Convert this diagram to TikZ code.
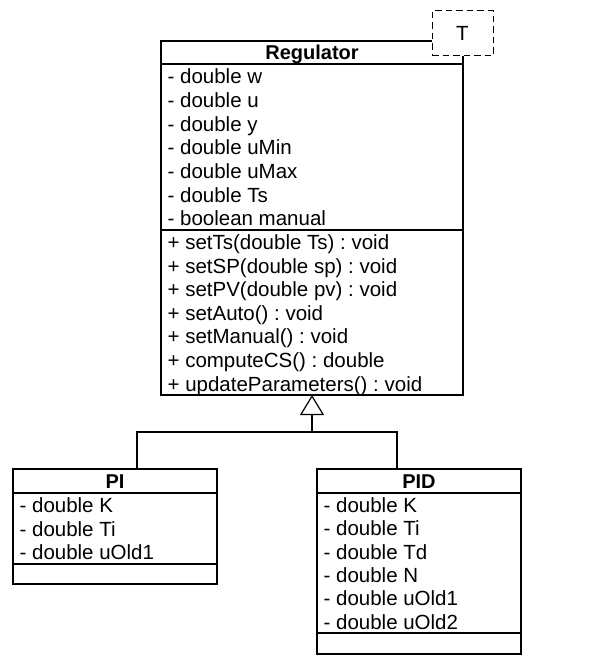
\documentclass[tikz,border=0pt]{standalone}
\usepackage{fontspec}
\setmainfont{Liberation Sans}
\usetikzlibrary{arrows.meta}
\frenchspacing
\begin{document}
\begin{tikzpicture}[x=1pt,y=-1pt,line width=1.2pt,
  classbox/.style={draw, fill=white, inner sep=0pt, outer sep=0pt, anchor=north west},
  member/.style={anchor=base west, inner sep=0pt, font=\fontsize{20.5}{23}\selectfont},
  ctitle/.style={anchor=base, inner sep=0pt, font=\fontsize{20}{23}\selectfont\bfseries},
  tparambox/.style={draw, dashed, dash pattern=on 6.5pt off 4pt, line width=1pt, fill=white,
    minimum width=61pt, minimum height=45pt, inner sep=0pt, outer sep=0pt,
    font=\fontsize{20.5}{23}\selectfont},
  inherit/.style={-{Triangle[open, width=24pt, length=20pt]}}]
\useasboundingbox (0,0) rectangle (613,655);

% ---- Regulator ----
\node[classbox, minimum width=302pt, minimum height=354pt] (reg) at (161,41) {};
\draw (reg.west |- 0,64) -- (reg.east |- 0,64);
\draw (reg.west |- 0,230) -- (reg.east |- 0,230);
\node[ctitle] (regname) at (312,59.7) {Regulator};
\foreach \t [count=\i from 0] in {- double w, - double u, - double y, - double uMin,
    - double uMax, - double Ts, - boolean manual}
  \node[member] (rega\i) at (167,{64+23.71*(\i+0.5)+7.8}) {\t};
\foreach \t [count=\i from 0] in {+ setTs(double Ts) : void, + setSP(double sp) : void,
    + setPV(double pv) : void, + setAuto() : void, + setManual() : void,
    + computeCS() : double, + updateParameters() : void}
  \node[member] (regm\i) at (167,{230+23.57*(\i+0.5)+7.8}) {\t};

% template parameter
\node[tparambox] (tparam) at (462.5,33.5) {T};

% ---- PI ----
\node[classbox, minimum width=204pt, minimum height=115pt] (pi) at (13,469) {};
\draw (pi.west |- 0,493) -- (pi.east |- 0,493);
\draw (pi.west |- 0,564) -- (pi.east |- 0,564);
\node[ctitle] (piname) at (115,488.2) {PI};
\foreach \t [count=\i from 0] in {- double K, - double Ti, - double uOld1}
  \node[member] (pia\i) at (19,{493+23.67*(\i+0.5)+7.8}) {\t};

% ---- PID ----
\node[classbox, minimum width=204pt, minimum height=185pt] (pid) at (317,469) {};
\draw (pid.west |- 0,493) -- (pid.east |- 0,493);
\draw (pid.west |- 0,633) -- (pid.east |- 0,633);
\node[ctitle] (pidname) at (419,488.2) {PID};
\foreach \t [count=\i from 0] in {- double K, - double Ti, - double Td, - double N,
    - double uOld1, - double uOld2}
  \node[member] (pida\i) at (323,{493+23.33*(\i+0.5)+7.8}) {\t};

% ---- generalisation ----
\coordinate (pijoin) at (137,469);
\coordinate (pidjoin) at (397,469);
\coordinate (hub) at (312,432);
\draw (pijoin) |- (hub);
\draw (pidjoin) |- (hub);
\draw[inherit] (hub) -- (reg.south);
\end{tikzpicture}
\end{document}
